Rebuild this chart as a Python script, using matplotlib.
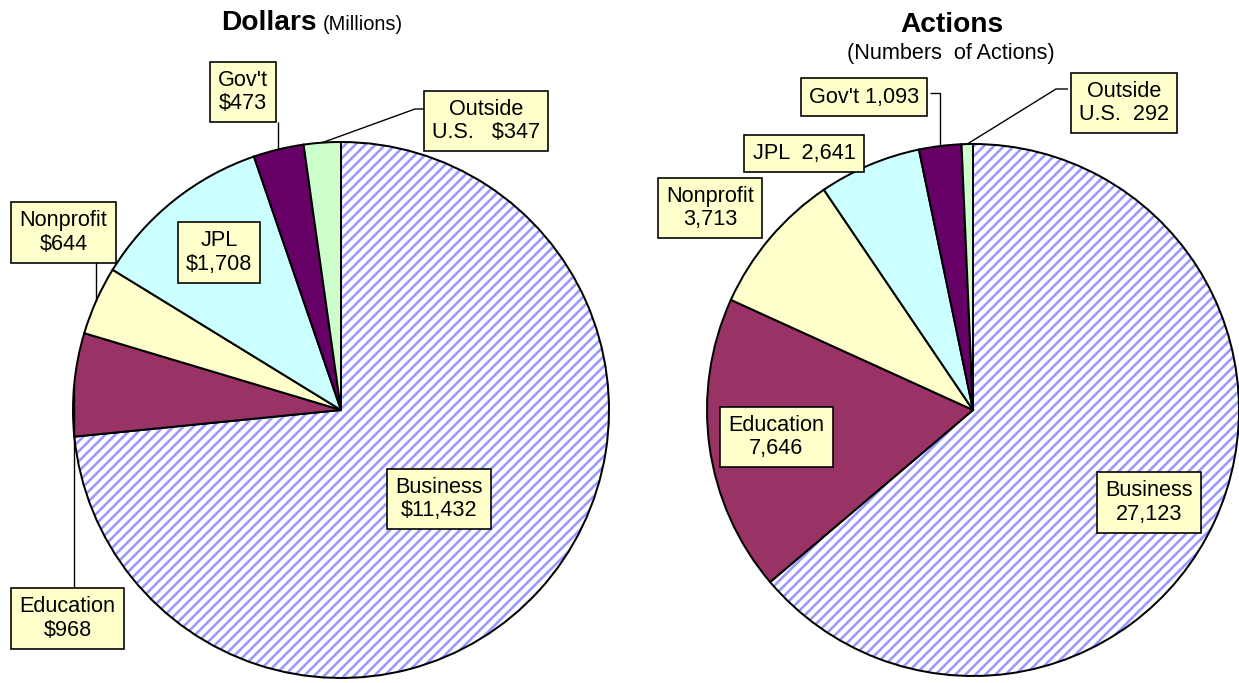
import numpy as np
import matplotlib
matplotlib.use("Agg")
import matplotlib.pyplot as plt
import matplotlib.patches as mpatches

# ---- data ----
categories = ["Business", "Education", "Nonprofit", "JPL", "Gov't", "Outside U.S."]
dollars = [11432, 968, 644, 1708, 473, 347]
actions = [27123, 7646, 3713, 2641, 1093, 292]
dollar_labels = ["Business\n$11,432", "Education\n$968", "Nonprofit\n$644",
                 "JPL\n$1,708", "Gov't\n$473", "Outside\nU.S.   $347"]
action_labels = ["Business\n27,123", "Education\n7,646", "Nonprofit\n3,713",
                 "JPL  2,641", "Gov't 1,093", "Outside\nU.S.  292"]
slice_colors = ["#9999FF", "#993366", "#FFFFCC", "#CCFFFF", "#660066", "#CCFFCC"]

# ---- layout ----
W, H, DPI = 1239, 683, 90
plt.rcParams['font.family'] = ['Liberation Sans', 'DejaVu Sans']
plt.rcParams['hatch.linewidth'] = 2.1

fig = plt.figure(figsize=(W / DPI, H / DPI), dpi=DPI)
ax = fig.add_axes([0, 0, 1, 1])

def Y(py):
    return H - py

LW = 1.6
LABEL_FS = 17.3

def draw_pie(values, labels, center_px, radius, label_pos, leaders):
    cx, cy = center_px[0], Y(center_px[1])
    wedges, _ = ax.pie(values, colors=slice_colors, startangle=90, counterclock=False,
                       center=(cx, cy), radius=radius,
                       wedgeprops=dict(edgecolor='black', linewidth=LW))
    # Business slice: striped
    w = wedges[0]
    w.set_facecolor('white')
    w.set_edgecolor('#9999FF')
    w.set_linewidth(0)
    w.set_hatch('///')
    outline = mpatches.Wedge((cx, cy), radius, w.theta1, w.theta2, fill=False,
                             edgecolor='black', linewidth=LW, zorder=w.get_zorder() + 0.5)
    ax.add_patch(outline)
    for wd in wedges[1:]:
        wd.set_zorder(w.get_zorder() + 1)
    mids = {}
    for i, wd in enumerate(wedges):
        a = np.deg2rad((wd.theta1 + wd.theta2) / 2)
        mids[i] = (cx + radius * np.cos(a), cy + radius * np.sin(a))
    for i, pts in leaders.items():
        xs = [mids[i][0]] + [p[0] if p[0] is not None else mids[i][0] for p in pts]
        ys = [mids[i][1]] + [Y(p[1]) for p in pts]
        ax.plot(xs, ys, color='black', linewidth=1.1, zorder=5, solid_capstyle='butt')
    for i, lab in enumerate(labels):
        px, py = label_pos[i]
        ax.text(px, Y(py), lab, ha='center', va='center', multialignment='center',
                fontsize=LABEL_FS, color='black', linespacing=1.15, zorder=6,
                bbox=dict(boxstyle='square,pad=0.38', facecolor='#FFFFCC',
                          edgecolor='black', linewidth=1.3))

# Dollars pie
draw_pie(dollars, dollar_labels, (341, 410), 268,
         label_pos=[(439, 499), (67.5, 618.5), (63.5, 232.5), (219, 252.5),
                    (243, 92), (486, 121)],
         leaders={1: [(None, 589)], 2: [(None, 262)], 4: [(None, 122)],
                  5: [(415, 109), (427, 109)]})

# Actions pie
draw_pie(actions, action_labels, (973, 410), 266,
         label_pos=[(1149, 502.5), (776.5, 437), (710, 208), (804, 153.5),
                    (864, 97), (1124, 103)],
         leaders={4: [(None, 93), (930, 93)], 5: [(1056, 89), (1068, 89)]})

# titles
ax.text(317, Y(30), "Dollars", ha='right', va='baseline', fontsize=22.5, fontweight='bold')
ax.text(323, Y(30), "(Millions)", ha='left', va='baseline', fontsize=16)
ax.text(952, Y(32), "Actions", ha='center', va='baseline', fontsize=22.5, fontweight='bold')
ax.text(951, Y(59), "(Numbers  of Actions)", ha='center', va='baseline', fontsize=17.3)

ax.set_xlim(0, W)
ax.set_ylim(0, H)
ax.set_aspect('auto')
ax.axis('off')

fig.savefig("out.png", dpi=DPI)
